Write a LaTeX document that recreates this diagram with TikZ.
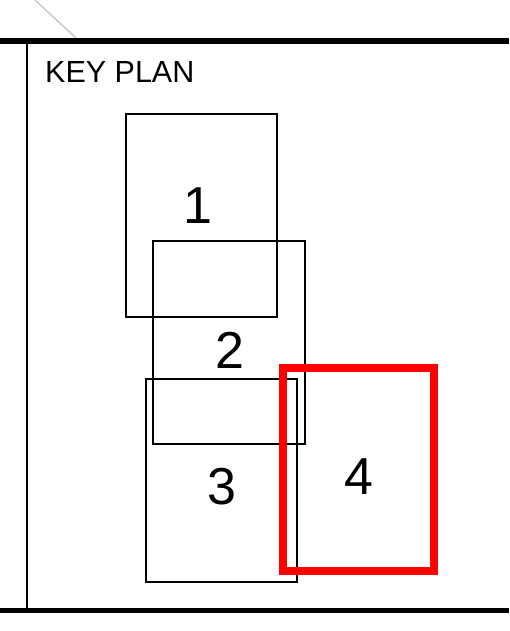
\documentclass[tikz,border=0pt]{standalone}
\usepackage{fontspec}
\setmainfont{Liberation Sans}
\begin{document}
\begin{tikzpicture}[x=1pt,y=-1pt,
  area/.style={draw=black,line width=1.3pt},
  hilite/.style={draw=red,line width=8pt},
  num/.style={inner sep=0pt,font=\fontsize{52}{52}\selectfont},
  frameline/.style={line width=6pt}]
\useasboundingbox (0,0) rectangle (509,631);
\draw[gray!45,line width=1.4pt] (35,0) -- (76,38);
\draw[frameline] (0,41) -- (509,41);
\draw[line width=5.5pt] (0,610.5) -- (509,610.5);
\draw[line width=2pt] (27,41) -- (27,610.5);
\node[anchor=base west,inner sep=0pt,font=\fontsize{30.5}{30.5}\selectfont] (title) at (45,83) {KEY PLAN};
\draw[area] (126,114) rectangle (277,317);
\draw[area] (153,241) rectangle (305,444);
\draw[area] (146,379) rectangle (297,582);
\draw[hilite] (283,368) rectangle (434,571);
\node[num] (n1) at (198,206) {1};
\node[num] (n2) at (230,350) {2};
\node[num] (n3) at (222,487) {3};
\node[num] (n4) at (359,477) {4};
\end{tikzpicture}
\end{document}
